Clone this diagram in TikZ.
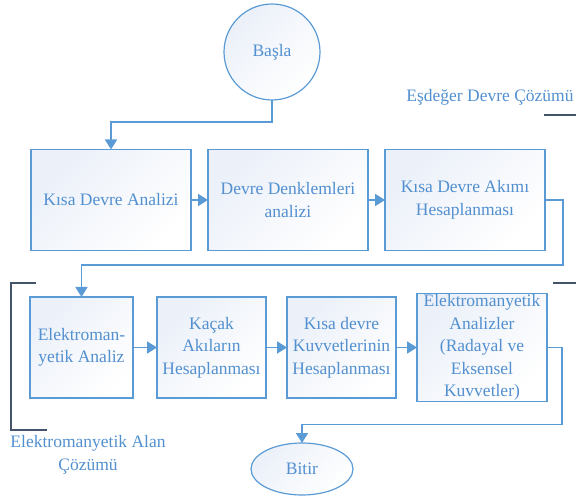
\documentclass[tikz,border=0pt]{standalone}
\usepackage{fontspec}
\setmainfont{Liberation Serif}
\usepackage{xcolor}
\usetikzlibrary{arrows.meta,positioning,shapes.geometric}
\definecolor{flowblue}{HTML}{5B9BD5}
\definecolor{textblue}{HTML}{5290D0}
\definecolor{boxfill}{HTML}{EBF0F9}
\definecolor{bracketnavy}{HTML}{44546A}
\tikzset{
    every picture/.style={line join=miter},
    procbox/.style={draw=flowblue,line width=1.2pt,top color=boxfill,bottom color=white,
      shading angle=45,minimum height=101pt,inner sep=1pt,outer sep=0pt,
      text=textblue,align=center,font=\fontsize{17.5}{22.5}\selectfont},
    termnode/.style={procbox,minimum height=0pt},
    flowarrow/.style={-{Triangle[length=10pt,width=12pt]},draw=flowblue,line width=1.8pt},
    bracketline/.style={draw=bracketnavy,line width=1.8pt},
    zonelabel/.style={text=textblue,align=center,font=\fontsize{17.5}{23}\selectfont}
}
\begin{document}
\begin{tikzpicture}[x=1pt,y=-1pt]
  \useasboundingbox (0,0) rectangle (576,497);

  % start / stop
  \node[termnode,circle,minimum size=96pt] (start) at (272,52) {Başla};
  \node[termnode,ellipse,minimum width=102pt,minimum height=52pt] (stop) at (302,469) {Bitir};

  % first row
  \node[procbox,minimum width=160pt] (kda) at (111,200) {Kısa Devre Analizi};
  \node[procbox,minimum width=160pt,right=17pt of kda] (ddk) {Devre Denklemleri\\analizi};
  \node[procbox,minimum width=160pt,right=17pt of ddk] (kdakim) {Kısa Devre Akımı\\Hesaplanması};

  % second row
  \node[procbox,minimum width=103pt] (ema) at (81.5,347.5) {Elektroman-\\yetik Analiz};
  \node[procbox,minimum width=109pt,right=24pt of ema] (kacak) {Kaçak\\Akıların\\Hesaplanması};
  \node[procbox,minimum width=109pt,right=21pt of kacak] (kuvvet) {Kısa devre\\Kuvvetlerinin\\Hesaplanması};
  \node[procbox,minimum width=130pt,right=21pt of kuvvet] (emanal) {Elektromanyetik\\Analizler\\(Radayal ve\\Eksensel\\Kuvvetler)};

  % connectors
  \draw[flowarrow] (start.south) -- ++(0,22) -| (kda.north);
  \draw[flowarrow] (kda) -- (ddk);
  \draw[flowarrow] (ddk) -- (kdakim);
  \draw[flowarrow] (kdakim.east) -- ++(18,0) -- ++(0,65) -| (ema.north);
  \draw[flowarrow] (ema) -- (kacak);
  \draw[flowarrow] (kacak) -- (kuvvet);
  \draw[flowarrow] (kuvvet) -- (emanal);
  \draw[flowarrow] (emanal.east) -- ++(15,0) -- ++(0,77) -| (stop.north);

  % zone brackets
  \node[zonelabel] (eslabel) at (490,97) {Eşdeğer Devre Çözümü};
  \draw[bracketline] (544,115) -- (576,115);
  \draw[bracketline] (553,283) -- (576,283);
  \draw[bracketline] (36,283) -- (11,283) -- (11,430) -- (47,430);
  \node[zonelabel] (emlabel) at (88,455) {Elektromanyetik Alan\\Çözümü};
\end{tikzpicture}
\end{document}
